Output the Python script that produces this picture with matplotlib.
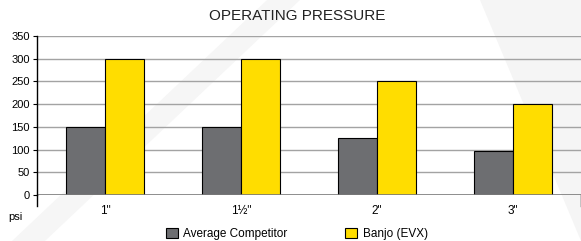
import numpy as np
import matplotlib.pyplot as plt
from matplotlib.patches import Polygon, Patch

# data
sizes = ['1"', '1½"', '2"', '3"']
competitor = [150, 150, 126, 97]
banjo = [300, 300, 250, 200]
yticks = [0, 50, 100, 150, 200, 250, 300, 350]

plt.rcParams['font.family'] = ['Liberation Sans', 'DejaVu Sans']

W, H = 581, 241
fig = plt.figure(figsize=(W / 100, H / 100), dpi=100)
fig.patch.set_facecolor('white')

def px(pts):
    return [(x / W, 1 - y / H) for x, y in pts]

# faint watermark shapes behind everything
fig.patches.append(Polygon(px([(267, 0), (300, 0), (45, 241), (12, 241)]),
                           closed=True, transform=fig.transFigure,
                           facecolor='#f6f6f6', edgecolor='none', zorder=-5))
fig.patches.append(Polygon(px([(480, 0), (581, 0), (581, 241)]),
                           closed=True, transform=fig.transFigure,
                           facecolor='#f5f5f5', edgecolor='none', zorder=-5))

ax = fig.add_axes([37 / W, (H - 195) / H, (W - 37) / W, (195 - 36) / H])
ax.set_facecolor('none')

x = np.arange(len(sizes))
w = 0.287
ax.bar(x - w / 2, competitor, w, color='#6d6e71', edgecolor='black', linewidth=0.8, zorder=3)
ax.bar(x + w / 2, banjo, w, color='#ffdd00', edgecolor='black', linewidth=0.8, zorder=3)

ax.set_xlim(-0.5, len(sizes) - 0.5)
ax.set_ylim(0, 350)
ax.set_yticks(yticks)
for v in yticks[1:]:
    ax.axhline(v, color='#a3a3a3', linewidth=1.0, zorder=1)
ax.axhline(0, color='#7a7a7a', linewidth=1.2, zorder=4)

for s in ['top', 'right', 'bottom']:
    ax.spines[s].set_visible(False)
ax.spines['left'].set_color('black')
ax.spines['left'].set_linewidth(1.0)
ax.spines['left'].set_zorder(5)

# end ticks below the axis
ax.plot([-0.5, -0.5], [0, -24], color='black', linewidth=1.0, clip_on=False)
ax.plot([3.5, 3.5], [0, -24], color='black', linewidth=1.0, clip_on=False)

ax.tick_params(axis='y', length=3, width=0.8, labelsize=8, pad=2, colors='black')
ax.set_xticks(x)
ax.set_xticklabels(sizes, fontsize=8.5)
ax.tick_params(axis='x', length=0, pad=7)

fig.text(15 / W, 1 - 217 / H, 'psi', fontsize=8, ha='center', va='center')
fig.text(297 / W, 1 - 16 / H, 'OPERATING PRESSURE', fontsize=11,
         ha='center', va='center', color='#222222')

handles = [Patch(facecolor='#6d6e71', edgecolor='black', linewidth=0.8, label='Average Competitor'),
           Patch(facecolor='#ffdd00', edgecolor='black', linewidth=0.8, label='Banjo (EVX)')]
fig.legend(handles=handles, loc='center', bbox_to_anchor=(297 / W, 1 - 234 / H), ncol=2,
           frameon=False, fontsize=8.5, handlelength=1.0, handleheight=1.0,
           handletextpad=0.45, columnspacing=4.9, borderpad=0, borderaxespad=0)

fig.savefig('out.png', dpi=100)
